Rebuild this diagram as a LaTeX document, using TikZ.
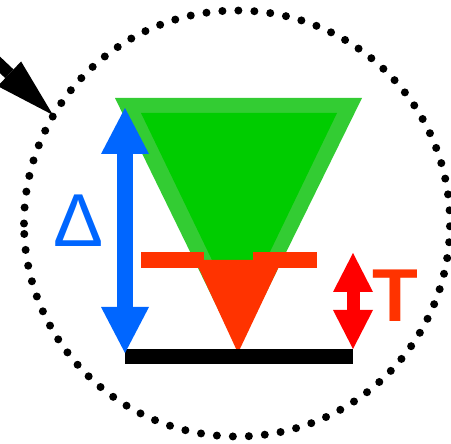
\documentclass[tikz,border=0pt]{standalone}
\usepackage{fontspec}
\setmainfont{Liberation Sans}
\usetikzlibrary{arrows.meta}
\definecolor{ringgreen}{RGB}{51,204,51}
\definecolor{coregreen}{RGB}{0,204,0}
\definecolor{tiporange}{RGB}{255,51,0}
\definecolor{deltablue}{RGB}{0,102,255}
\definecolor{arrowred}{RGB}{255,0,0}
\tikzset{
    dotring/.style={draw=black, line width=8pt, line cap=round, dash pattern=on 0pt off 16pt},
    pointer/.style={draw=black, line width=12pt, -{Triangle[length=60pt, width=34pt, line width=0pt]}},
    deltaarrow/.style={draw=deltablue, line width=16pt,
        {Triangle[length=46pt, width=48pt, line width=0pt]}-{Triangle[length=46pt, width=48pt, line width=0pt]}},
    tarrow/.style={draw=arrowred, line width=13pt,
        {Triangle[length=39pt, width=40pt, line width=0pt]}-{Triangle[length=39pt, width=40pt, line width=0pt]}},
    biglabel/.style={inner sep=0pt, font=\fontsize{75}{75}\selectfont}
}
\begin{document}
\begin{tikzpicture}[x=1pt, y=-1pt]
    \useasboundingbox (0,0) rectangle (451,444);
    % dotted ring
    \coordinate (ring) at (237,223.5);
    \draw[dotring] (ring) ++(-213,0) arc[start angle=180, end angle=-180, radius=213pt];
    % pointer
    \coordinate (pointer start) at (-20,46);
    \coordinate (pointer tip) at (53,115);
    \draw[pointer] (pointer start) -- (pointer tip);
    % green cone
    \fill[ringgreen] (115,98) -- (362,98) -- (238,350) -- cycle;
    \fill[coregreen] (141,113) -- (337,113) -- (239,316) -- cycle;
    % orange tip and bar
    \fill[tiporange] (195,260) -- (282,260) -- (238,353) -- cycle;
    \fill[tiporange] (141,252) rectangle (204,268);
    \fill[tiporange] (253,252) rectangle (317,268);
    % ground
    \fill[black] (125,349) rectangle (353,364);
    % measures
    \coordinate (delta top) at (125,108);
    \coordinate (delta bottom) at (125,353);
    \draw[deltaarrow] (delta top) -- (delta bottom);
    \coordinate (t top) at (353,253);
    \coordinate (t bottom) at (353,349);
    \draw[tarrow] (t top) -- (t bottom);
    \node[biglabel, text=deltablue] (delta) at (79,221) {Δ};
    \node[biglabel, text=tiporange, font=\fontsize{75}{75}\selectfont\bfseries] (thick) at (395,295.5) {T};
\end{tikzpicture}
\end{document}
